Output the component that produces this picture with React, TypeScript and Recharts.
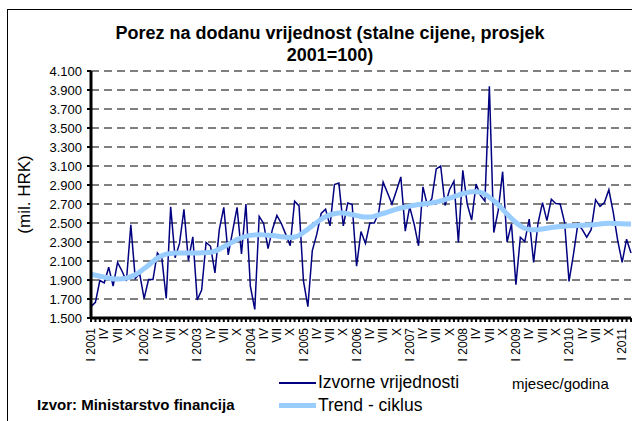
import React from 'react';
import { LineChart, Line, XAxis, YAxis, CartesianGrid } from 'recharts';

const FONT = "Arial, 'Liberation Sans', sans-serif";

const monthNames = ['I', 'II', 'III', 'IV', 'V', 'VI', 'VII', 'VIII', 'IX', 'X', 'XI', 'XII'];
const years = [2001, 2002, 2003, 2004, 2005, 2006, 2007, 2008, 2009, 2010, 2011];

// Izvorne vrijednosti, mil. HRK, I 2001 - III 2011
const izvorne = [
  1620, 1665, 1895, 1870, 2035, 1835, 2085, 1995, 1890, 2480, 1915, 1965,
  1705, 1905, 1905, 2185, 2130, 1705, 2670, 2135, 2285, 2645, 2105, 2355,
  1690, 1795, 2295, 2255, 1975, 2435, 2665, 2165, 2415, 2665, 2175, 2700,
  1835, 1590, 2570, 2495, 2230, 2435, 2580, 2495, 2380, 2260, 2730, 2680,
  1890, 1620, 2210, 2380, 2600, 2645, 2470, 2905, 2920, 2470, 2710, 2695,
  2045, 2410, 2285, 2500, 2500, 2610, 2930, 2815, 2700, 2840, 2985, 2415,
  2670, 2490, 2260, 2880, 2685, 2755, 3070, 3100, 2685, 2850, 2940, 2295,
  3055, 2700, 2530, 2910, 2790, 2730, 3940, 2400, 2630, 3040, 2300, 2490,
  1850, 2350, 2305, 2540, 2085, 2500, 2715, 2525, 2750, 2705, 2700, 2505,
  1885, 2170, 2490, 2430, 2350, 2430, 2745, 2675, 2715, 2850, 2610, 2315,
  2085, 2330, 2185,
];

// Trend - ciklus
const trend = [
  1960, 1950, 1940, 1930, 1920, 1912, 1910, 1912, 1920, 1935, 1955, 1985,
  2020, 2055, 2095, 2130, 2155, 2172, 2180, 2184, 2185, 2185, 2184, 2184,
  2185, 2186, 2188, 2192, 2205, 2225, 2250, 2275, 2300, 2325, 2345, 2360,
  2370, 2375, 2376, 2375, 2372, 2368, 2363, 2356, 2350, 2347, 2352, 2370,
  2400, 2435, 2470, 2505, 2540, 2565, 2585, 2598, 2605, 2604, 2598, 2588,
  2578, 2568, 2562, 2562, 2570, 2585, 2600, 2615, 2630, 2645, 2658, 2668,
  2678, 2686, 2694, 2700, 2706, 2712, 2720, 2732, 2746, 2762, 2778, 2794,
  2808, 2820, 2828, 2830, 2822, 2802, 2772, 2735, 2692, 2645, 2595, 2548,
  2505, 2470, 2445, 2432, 2428, 2430, 2436, 2444, 2452, 2458, 2463, 2467,
  2470, 2472, 2474, 2476, 2478, 2481, 2485, 2490, 2495, 2497, 2496, 2494,
  2491, 2490, 2490,
];

const yTicks = [1500, 1700, 1900, 2100, 2300, 2500, 2700, 2900, 3100, 3300, 3500, 3700, 3900, 4100];

const data = izvorne.map((v, i) => ({
  period: `${monthNames[i % 12]} ${years[Math.floor(i / 12)]}`,
  izvorne: v,
  trend: trend[i],
}));

const fmtThousands = (v: number) =>
  `${Math.floor(v / 1000)}.${String(v % 1000).padStart(3, '0')}`;

// every month gets a tick mark, only I / IV / VII / X get a label
const MonthTick = ({ x, y, payload }: any) => {
  const [roman] = String(payload.value).split(' ');
  let label = '';
  if (roman === 'I') label = payload.value;
  else if (roman === 'IV' || roman === 'VII' || roman === 'X') label = roman;
  if (!label) return null;
  return (
    <text
      transform={`translate(${x},${y + 4}) rotate(-90)`}
      textAnchor="end"
      dy="0.35em"
      fontSize={12}
      fontFamily={FONT}
      fill="#000"
    >
      {label}
    </text>
  );
};

export default function App() {
  return (
    <div style={{ position: 'fixed', left: 0, top: 0, width: 632, height: 421, overflow: 'hidden', background: '#fff', fontFamily: FONT }}>
      <div style={{ position: 'absolute', left: 7, top: 9, width: 700, height: 500, border: '1px solid #000' }} />

      <div style={{ position: 'absolute', left: 46, width: 568, top: 22, textAlign: 'center', fontWeight: 'bold', fontSize: 18, lineHeight: '22px' }}>
        Porez na dodanu vrijednost (stalne cijene, prosjek
        <br />
        2001=100)
      </div>

      <div style={{ position: 'absolute', left: 0, top: 0 }}>
        <LineChart width={632} height={421} data={data} margin={{ top: 71, right: 1, bottom: 0, left: 0 }}>
          <CartesianGrid horizontal vertical={false} stroke="#000" strokeDasharray="8 5" />
          <XAxis
            dataKey="period"
            interval={0}
            tick={<MonthTick />}
            axisLine={{ stroke: '#000', strokeWidth: 3 }}
            tickLine={{ stroke: '#000', strokeWidth: 2 }}
            tickSize={4}
            height={103}
          />
          <YAxis
            type="number"
            domain={[1500, 4100]}
            ticks={yTicks}
            interval={0}
            tickFormatter={fmtThousands}
            width={91}
            axisLine={{ stroke: '#000', strokeWidth: 3 }}
            tickLine={{ stroke: '#000', strokeWidth: 2 }}
            tickSize={4}
            tickMargin={5}
            tick={{ fontSize: 13, fill: '#000', fontFamily: FONT }}
            label={{ value: '(mil. HRK)', angle: -90, position: 'insideLeft', offset: 24, style: { fontSize: 17, fill: '#000', fontFamily: FONT, textAnchor: 'middle' } }}
          />
          <Line type="linear" dataKey="izvorne" stroke="#000080" strokeWidth={1.5} dot={false} isAnimationActive={false} />
          <Line type="monotone" dataKey="trend" stroke="#99CCFF" strokeWidth={5} dot={false} isAnimationActive={false} />
        </LineChart>
      </div>

      {/* legend */}
      <div style={{ position: 'absolute', left: 279, top: 382, width: 37, height: 2, background: '#000080' }} />
      <div style={{ position: 'absolute', left: 318, top: 372, fontSize: 17.5 }}>Izvorne vrijednosti</div>
      <div style={{ position: 'absolute', left: 279, top: 403, width: 37, height: 5, background: '#99CCFF' }} />
      <div style={{ position: 'absolute', left: 318, top: 395, fontSize: 17.5 }}>Trend - ciklus</div>

      <div style={{ position: 'absolute', left: 512, top: 375, fontSize: 15 }}>mjesec/godina</div>
      <div style={{ position: 'absolute', left: 37, top: 396, fontSize: 15, fontWeight: 'bold' }}>Izvor: Ministarstvo financija</div>
    </div>
  );
}
